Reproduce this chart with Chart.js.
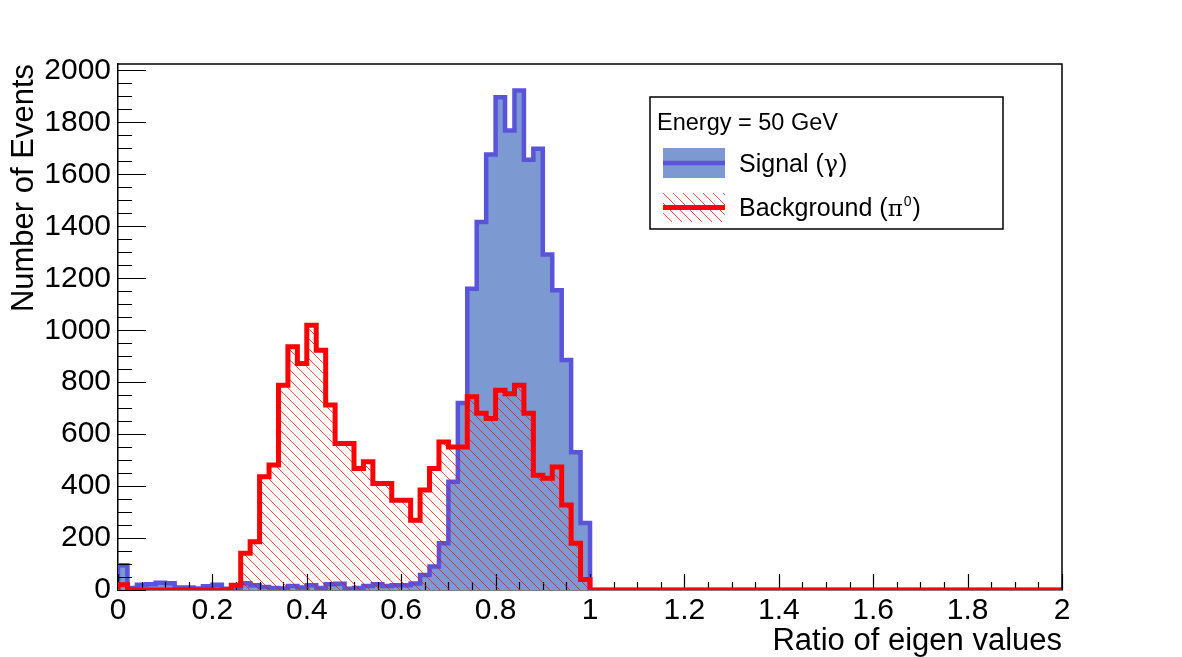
<!DOCTYPE html>
<html><head><meta charset="utf-8">
<script src="https://cdn.jsdelivr.net/npm/chart.js@4"></script>
<style>html,body{margin:0;padding:0;background:#fff;overflow:hidden}#wrap{width:1182px;height:657px;position:relative}</style>
</head><body><div id="wrap"><canvas id="c" width="1182" height="657"></canvas></div>
<script>
// ---- data ----
const binLow = 0;
const binWidth = 0.02;
const signalCounts = [
  95, 8, 20, 22, 28, 26, 10, 10, 6, 14,
  20, 5, 5, 26, 18, 12, 8, 6, 15, 10,
  18, 8, 22, 24, 5, 8, 15, 22, 15, 18,
  18, 25, 58, 90, 180, 417, 720, 1160, 1417, 1677,
  1897, 1769, 1923, 1656, 1699, 1292, 1154, 885, 530, 258,
  0,0,0,0,0,0,0,0,0,0, 0,0,0,0,0,0,0,0,0,0,
  0,0,0,0,0,0,0,0,0,0, 0,0,0,0,0,0,0,0,0,0,
  0,0,0,0,0,0,0,0,0,0
];
const backgroundCounts = [
  20, 0, 0, 0, 0, 0, 0, 0, 0, 0,
  0, 0, 18, 141, 186, 436, 481, 788, 936, 872,
  1019, 923, 712, 564, 564, 468, 494, 410, 410, 346,
  346, 269, 385, 468, 570, 551, 551, 744, 680, 660,
  769, 756, 788, 680, 442, 430, 474, 327, 180, 40,
  0,0,0,0,0,0,0,0,0,0, 0,0,0,0,0,0,0,0,0,0,
  0,0,0,0,0,0,0,0,0,0, 0,0,0,0,0,0,0,0,0,0,
  0,0,0,0,0,0,0,0,0,0
];
const xTickLabels = ['0', '0.2', '0.4', '0.6', '0.8', '1', '1.2', '1.4', '1.6', '1.8', '2'];
const yTickLabels = ['0', '200', '400', '600', '800', '1000', '1200', '1400', '1600', '1800', '2000'];
const xRange = [0, 2];
const yRange = [0, 2025];
const legendHeader = 'Energy = 50 GeV';
const signalLabel = 'Signal (';
const signalGreek = '\u03b3';
const backgroundLabel = 'Background (';
const backgroundGreek = '\u03c0';
const xTitle = 'Ratio of eigen values';
const yTitle = 'Number of Events';

// ---- styling ----
const FONT = '"Liberation Sans", Arial, Helvetica, sans-serif';
const GREEK = '"DejaVu Serif", serif';
const sigLine = '#5954d9';
const sigFill = '#7d99d1';
const bkgLine = '#ff0000';

function makeHatch(){
  const p = document.createElement('canvas');
  p.width = 10; p.height = 10;
  const g = p.getContext('2d');
  g.strokeStyle = '#ff0000';
  g.lineWidth = 0.7;
  g.beginPath();
  g.moveTo(-2, -2); g.lineTo(12, 12);
  g.moveTo(-12, -2); g.lineTo(2, 12);
  g.moveTo(8, -2); g.lineTo(22, 12);
  g.stroke();
  return document.getElementById('c').getContext('2d').createPattern(p, 'repeat');
}
const hatch = makeHatch();

function stepPoints(counts){
  const pts = [{x: binLow, y: 0}];
  counts.forEach((v, i) => {
    const lo = binLow + i * binWidth;
    pts.push({x: lo, y: v}, {x: lo + binWidth, y: v});
  });
  pts.push({x: binLow + counts.length * binWidth, y: 0});
  return pts;
}

function drawParts(ctx, x, baseline, parts){
  for (const p of parts){
    ctx.font = p.size + 'px ' + (p.family || FONT);
    ctx.fillText(p.text, x, baseline + (p.dy || 0));
    x += ctx.measureText(p.text).width + (p.gap || 0);
  }
}

const rootTicks = {
  id: 'rootTicks',
  afterDatasetDraw(chart, args){
    if (args.index !== 0) return;
    const {ctx, chartArea: a, scales: {x, y}} = chart;
    ctx.save();
    ctx.strokeStyle = '#000';
    ctx.lineWidth = 1.2;
    ctx.beginPath();
    const xStep = (Number(xTickLabels[1]) - Number(xTickLabels[0])) / 4;
    for (let k = 0; k <= Math.round((xRange[1]-xRange[0]) / xStep); k++){
      const v = xRange[0] + k * xStep;
      const px = Math.round(x.getPixelForValue(v)) + 0.5;
      const len = (k % 4 === 0) ? 16 : 8;
      ctx.moveTo(px, a.bottom); ctx.lineTo(px, a.bottom - len);
    }
    const yStep = (Number(yTickLabels[1]) - Number(yTickLabels[0])) / 4;
    for (let v = 0; v <= yRange[1]; v += yStep){
      const py = Math.round(y.getPixelForValue(v)) + 0.5;
      const len = (Math.round(v / yStep) % 4 === 0) ? 28 : 14;
      ctx.moveTo(a.left, py); ctx.lineTo(a.left + len, py);
    }
    ctx.stroke();
    ctx.restore();
  },
  afterDraw(chart){
    const {ctx, chartArea: a} = chart;
    ctx.save();
    ctx.strokeStyle = '#000';
    ctx.lineWidth = 1.5;
    ctx.beginPath();
    ctx.moveTo(a.left, a.top); ctx.lineTo(a.right, a.top); ctx.lineTo(a.right, a.bottom);
    ctx.stroke();
    // legend
    const L = {x: 650, y: 97, w: 353, h: 132};
    ctx.fillStyle = '#fff';
    ctx.fillRect(L.x, L.y, L.w, L.h);
    ctx.lineWidth = 1.5;
    ctx.strokeRect(L.x, L.y, L.w, L.h);
    ctx.fillStyle = '#000';
    ctx.textBaseline = 'alphabetic';
    ctx.textAlign = 'left';
    ctx.font = '23.5px ' + FONT;
    ctx.fillText(legendHeader, 657, 130);
    // signal sample
    ctx.fillStyle = sigFill;
    ctx.fillRect(663, 148, 62, 30);
    ctx.strokeStyle = sigLine; ctx.lineWidth = 4.5;
    ctx.beginPath(); ctx.moveTo(663, 163); ctx.lineTo(725, 163); ctx.stroke();
    // background sample
    ctx.fillStyle = hatch;
    ctx.fillRect(663, 193, 62, 29);
    ctx.strokeStyle = bkgLine; ctx.lineWidth = 5;
    ctx.beginPath(); ctx.moveTo(663, 207.5); ctx.lineTo(725, 207.5); ctx.stroke();
    ctx.fillStyle = '#000';
    drawParts(ctx, 739, 172, [
      {text: signalLabel, size: 25},
      {text: signalGreek, size: 24, family: GREEK, gap: 1},
      {text: ')', size: 25}
    ]);
    drawParts(ctx, 739, 216, [
      {text: backgroundLabel, size: 25},
      {text: backgroundGreek, size: 23, family: GREEK, gap: 1},
      {text: '0', size: 14, dy: -10, gap: 1},
      {text: ')', size: 25}
    ]);
    ctx.restore();
  }
};

new Chart(document.getElementById('c'), {
  type: 'line',
  data: {
    datasets: [
      {label: 'signal', data: stepPoints(signalCounts), borderColor: sigLine, backgroundColor: sigFill,
       borderWidth: 4.5, fill: 'origin', pointRadius: 0, tension: 0, order: 1,
       borderJoinStyle: 'miter', borderCapStyle: 'butt'},
      {label: 'background', data: stepPoints(backgroundCounts), borderColor: bkgLine, backgroundColor: hatch,
       borderWidth: 5, fill: 'origin', pointRadius: 0, tension: 0, order: 0,
       borderJoinStyle: 'miter', borderCapStyle: 'butt'}
    ]
  },
  options: {
    responsive: false, animation: false, devicePixelRatio: 1,
    layout: {padding: {left: 0, top: 64, right: 120, bottom: 0}},
    plugins: {legend: {display: false}, tooltip: {enabled: false}},
    scales: {
      x: {
        type: 'linear', min: xRange[0], max: xRange[1],
        afterBuildTicks: s => { s.ticks = xTickLabels.map(v => ({value: Number(v)})); },
        afterFit: s => { s.height = 67; },
        grid: {display: false, drawTicks: false},
        border: {display: true, color: '#000', width: 1.5},
        ticks: {color: '#000', font: {family: FONT, size: 30}, padding: 3, maxRotation: 0, autoSkip: false,
                callback: (v, i) => xTickLabels[i]},
        title: {display: true, text: xTitle, align: 'end', color: '#000', font: {family: FONT, size: 31, lineHeight: 1}, padding: {top: 0, bottom: 0}}
      },
      y: {
        type: 'linear', min: yRange[0], max: yRange[1],
        afterBuildTicks: s => { s.ticks = yTickLabels.map(v => ({value: Number(v)})); },
        afterFit: s => { s.width = 118; },
        grid: {display: false, drawTicks: false},
        border: {display: true, color: '#000', width: 1.5},
        ticks: {color: '#000', font: {family: FONT, size: 30}, padding: 7, autoSkip: false,
                callback: (v, i) => yTickLabels[i]},
        title: {display: true, text: yTitle, align: 'end', color: '#000', font: {family: FONT, size: 31, lineHeight: 1}, padding: {top: 9, bottom: 0}}
      }
    }
  },
  plugins: [rootTicks]
});
</script></body></html>
